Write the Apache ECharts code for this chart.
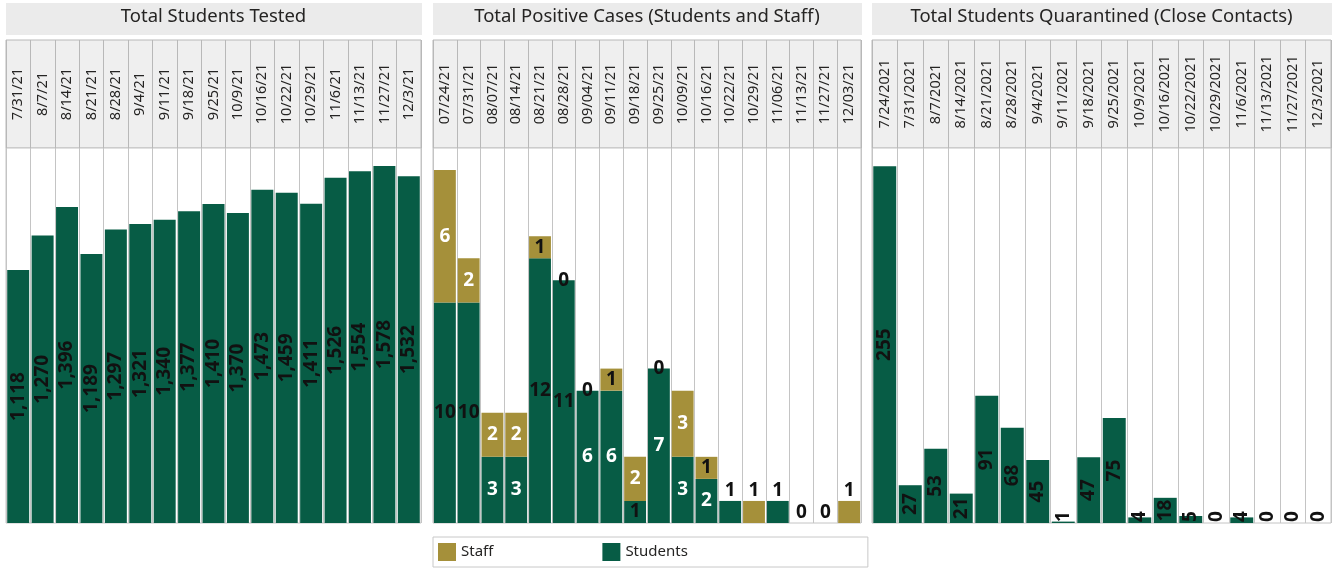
<!DOCTYPE html>
<html><head><meta charset="utf-8">
<script src="https://cdn.jsdelivr.net/npm/echarts@6/dist/echarts.min.js"></script>
<style>html,body{margin:0;padding:0;background:#fff}#c{width:1336px;height:568px}</style>
</head><body><div id="c"></div>
<script>
// ---- data ----
const panelTitles = ['Total Students Tested', 'Total Positive Cases (Students and Staff)', 'Total Students Quarantined (Close Contacts)'];
const testedDates = ['7/31/21','8/7/21','8/14/21','8/21/21','8/28/21','9/4/21','9/11/21','9/18/21','9/25/21','10/9/21','10/16/21','10/22/21','10/29/21','11/6/21','11/13/21','11/27/21','12/3/21'];
const testedValues = [1118,1270,1396,1189,1297,1321,1340,1377,1410,1370,1473,1459,1411,1526,1554,1578,1532];
const caseDates = ['07/24/21','07/31/21','08/07/21','08/14/21','08/21/21','08/28/21','09/04/21','09/11/21','09/18/21','09/25/21','10/09/21','10/16/21','10/22/21','10/29/21','11/06/21','11/13/21','11/27/21','12/03/21'];
const caseStudents = [10,10,3,3,12,11,6,6,1,7,3,2,1,0,1,0,0,0];
const caseStaff = [6,2,2,2,1,0,0,1,2,0,3,1,0,1,0,0,0,1];
const quarDates = ['7/24/2021','7/31/2021','8/7/2021','8/14/2021','8/21/2021','8/28/2021','9/4/2021','9/11/2021','9/18/2021','9/25/2021','10/9/2021','10/16/2021','10/22/2021','10/29/2021','11/6/2021','11/13/2021','11/27/2021','12/3/2021'];
const quarValues = [255,27,53,21,91,68,45,1,47,75,4,18,5,0,4,0,0,0];
const legendNames = ['Staff', 'Students'];

// ---- style ----
const FONT = 'Noto Sans';
const GREEN = '#075c45';
const OLIVE = '#a5903a';
const TEXT = '#252423';
const LINE = '#c4c4c4';
const panels = [
  {left: 6, right: 421, dates: testedDates, max: 1657},
  {left: 433, right: 861, dates: caseDates, max: 17},
  {left: 872, right: 1331, dates: quarDates, max: 268}
];
const HEAD_TOP = 40, HEAD_H = 108, PLOT_TOP = 148, PLOT_H = 375;

const grid = [], xAxis = [], yAxis = [], title = [], graphic = [];
panels.forEach((p, i) => {
  const w = p.right - p.left;
  grid.push({left: p.left, top: HEAD_TOP, width: w, height: HEAD_H, show: true, backgroundColor: '#efefef', borderColor: '#b8b8b8', borderWidth: 1, outerBoundsMode: 'none', containLabel: false});
  grid.push({left: p.left, top: PLOT_TOP, width: w, height: PLOT_H, show: true, backgroundColor: '#fff', borderColor: LINE, borderWidth: 1, outerBoundsMode: 'none', containLabel: false});
  xAxis.push({gridIndex: 2*i, type: 'category', data: p.dates, position: 'bottom',
    axisLine: {show: false}, axisTick: {show: false},
    splitLine: {show: true, interval: 0, lineStyle: {color: '#b8b8b8', width: 1}},
    axisLabel: {inside: true, rotate: 90, margin: HEAD_H/2, align: 'center', verticalAlign: 'middle', interval: 0,
      fontFamily: FONT, fontSize: 14.5, color: TEXT, hideOverlap: false}});
  yAxis.push({gridIndex: 2*i, type: 'value', min: 0, max: 1, show: false});
  xAxis.push({gridIndex: 2*i+1, type: 'category', data: p.dates,
    axisLine: {show: false}, axisTick: {show: false}, axisLabel: {show: false},
    splitLine: {show: true, interval: 0, lineStyle: {color: LINE, width: 1}}});
  yAxis.push({gridIndex: 2*i+1, type: 'value', min: 0, max: p.max, show: false});
  graphic.push({type: 'rect', z: -10, shape: {x: p.left, y: 3, width: w + 1, height: 32}, style: {fill: '#ebebeb'}});
  title.push({text: panelTitles[i], left: p.left + w/2, top: 7, textAlign: 'center', padding: 0,
    textStyle: {fontFamily: FONT, fontSize: 18.5, fontWeight: 'normal', color: TEXT}});
});

const fmt = v => Number(v).toLocaleString('en-US');
const baseLabel = {fontFamily: FONT, fontSize: 19, fontWeight: 'bold'};

function caseLabel(v, other, isStudents) {
  const color = (v >= 2 && v <= 9) ? '#ffffff' : '#111111';
  let show = true, position = 'inside';
  if (isStudents) {
    if (v === 0 && other > 0) show = false;
    else if (v === 0 || (v === 1 && other === 0)) position = 'top';
  } else {
    if (v === 0 && other <= 1) show = false;
    else if (v > 0 && other === 0) position = 'top';
  }
  return Object.assign({}, baseLabel, {show, position, color, distance: 1});
}

const series = [
  {name: 'Tested', type: 'bar', xAxisIndex: 1, yAxisIndex: 1, barCategoryGap: '10%',
   itemStyle: {color: GREEN}, data: testedValues,
   label: Object.assign({}, baseLabel, {show: true, position: 'inside', rotate: 90, align: 'center', verticalAlign: 'middle', color: '#111', formatter: p => fmt(p.value)})},
  {name: 'Students', type: 'bar', stack: 'cases', xAxisIndex: 3, yAxisIndex: 3, barCategoryGap: '8%',
   itemStyle: {color: GREEN},
   data: caseStudents.map((v, i) => ({value: v, label: caseLabel(v, caseStaff[i], true)}))},
  {name: 'Staff', type: 'bar', stack: 'cases', xAxisIndex: 3, yAxisIndex: 3, barCategoryGap: '8%',
   itemStyle: {color: OLIVE},
   data: caseStaff.map((v, i) => ({value: v, label: caseLabel(v, caseStudents[i], false)}))},
  {name: 'Quarantined', type: 'bar', xAxisIndex: 5, yAxisIndex: 5, barCategoryGap: '10%',
   itemStyle: {color: GREEN},
   data: quarValues.map(v => ({value: v, label: v < 10
     ? Object.assign({}, baseLabel, {show: true, position: 'insideBottom', distance: 1, rotate: 90, align: 'left', verticalAlign: 'middle', color: '#111'})
     : Object.assign({}, baseLabel, {show: true, position: 'inside', rotate: 90, align: 'center', verticalAlign: 'middle', color: '#111'})}))}
];

const chart = echarts.init(document.getElementById('c'), null, {renderer: 'canvas'});
chart.setOption({
  animation: false,
  backgroundColor: '#fff',
  title, grid, xAxis, yAxis, series, graphic,
  legend: {data: legendNames, left: 433, top: 537, orient: 'horizontal', icon: 'rect',
    itemWidth: 18, itemHeight: 18, itemGap: 109, padding: [6, 180, 6, 5],
    borderColor: '#c8c8c8', borderWidth: 1, selectedMode: false,
    textStyle: {fontFamily: FONT, fontSize: 15, color: TEXT}}
});
</script></body></html>
